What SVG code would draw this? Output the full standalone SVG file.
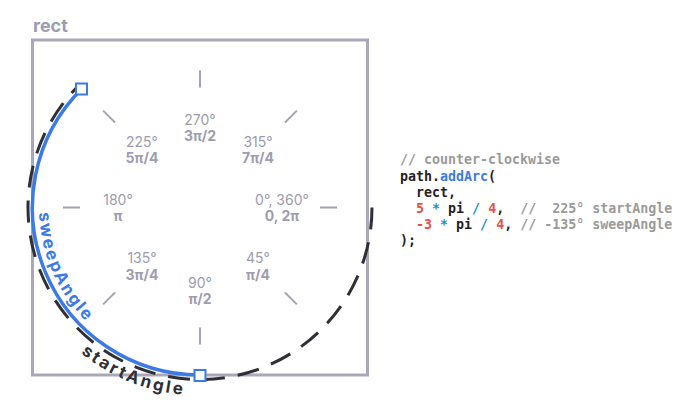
<svg xmlns="http://www.w3.org/2000/svg" width="700" height="400" viewBox="0 0 700 400">
  <style>
    .lbl { font-family: Inter, "Noto Sans", sans-serif; font-size: 14px; fill: #9e9cb0; text-anchor: middle; }
    .b { font-weight: 700; }
    .tick { stroke: #a3a1b3; stroke-width: 2; fill: none; }
    .frame { fill: none; stroke: #a9a7b8; stroke-width: 3; }
    .dash { fill: none; stroke: #2f2f35; stroke-width: 3; stroke-dasharray: 22 13; }
    .arc { fill: none; stroke: #3c7be6; stroke-width: 3.5; }
    .handle { fill: #ffffff; stroke: #3c7be6; stroke-width: 2; }
    .code { font-family: "DejaVu Sans Mono", "Liberation Mono", monospace; font-size: 13.3px; font-weight: 700; fill: #222228; white-space: pre; }
    .cm { fill: #9a9a9a; }
    .num { fill: #e5504a; }
    .op { fill: #1f8fc9; }
    .fn { fill: #3c7be6; }
    .curve { font-family: Inter, "Noto Sans", sans-serif; font-size: 17px; font-weight: 700; }
  </style>
  <defs>
    <path id="sweepPath" d="M 39 207.5 A 161 161 0 0 0 200 368.5"/>
    <path id="startPath" d="M 12 207.5 A 188 188 0 0 0 200 395.5"/>
  </defs>

  <g id="rect-node">
    <rect class="frame" x="32.5" y="40" width="335" height="335"/>
    <text x="33" y="32" style="font-family: Inter, 'Noto Sans', sans-serif; font-size: 18px; font-weight: 700; fill: #9e9cb0;">rect</text>
  </g>

  <g id="ticks">
    <line class="tick" x1="320" y1="207.5" x2="337" y2="207.5"/>
    <line class="tick" x1="284.85" y1="292.35" x2="296.87" y2="304.37"/>
    <line class="tick" x1="200" y1="327.5" x2="200" y2="344.5"/>
    <line class="tick" x1="115.15" y1="292.35" x2="103.13" y2="304.37"/>
    <line class="tick" x1="80" y1="207.5" x2="63" y2="207.5"/>
    <line class="tick" x1="115.15" y1="122.65" x2="103.13" y2="110.63"/>
    <line class="tick" x1="200" y1="87.5" x2="200" y2="70.5"/>
    <line class="tick" x1="284.85" y1="122.65" x2="296.87" y2="110.63"/>
  </g>

  <g id="angle-labels">
    <g id="label-270"><text class="lbl" x="200" y="125">270°</text><text class="lbl b" x="200" y="141">3π/2</text></g>
    <g id="label-225"><text class="lbl" x="142" y="147">225°</text><text class="lbl b" x="142" y="163">5π/4</text></g>
    <g id="label-315"><text class="lbl" x="258" y="147">315°</text><text class="lbl b" x="258" y="163">7π/4</text></g>
    <g id="label-180"><text class="lbl" x="118" y="205">180°</text><text class="lbl b" x="118" y="221">π</text></g>
    <g id="label-0"><text class="lbl" x="282" y="205">0°, 360°</text><text class="lbl b" x="282" y="221">0, 2π</text></g>
    <g id="label-135"><text class="lbl" x="142" y="263">135°</text><text class="lbl b" x="142" y="280">3π/4</text></g>
    <g id="label-45"><text class="lbl" x="258" y="263">45°</text><text class="lbl b" x="258" y="280">π/4</text></g>
    <g id="label-90"><text class="lbl" x="200" y="288">90°</text><text class="lbl b" x="200" y="304">π/2</text></g>
  </g>

  <g id="connectors">
    <path id="start-arc" class="dash" d="M 372 207.5 A 172 172 0 1 1 78.38 85.88"/>
    <path id="sweep-arc" class="arc" d="M 81.56 88.94 A 167.5 167.5 0 0 0 200 375"/>
  </g>

  <g id="handles">
    <rect id="handle-start" class="handle" x="76" y="83.5" width="11" height="11"/>
    <rect id="handle-end" class="handle" x="194.5" y="370" width="11" height="11"/>
  </g>

  <g id="curve-labels">
    <text class="curve" style="fill: #3c7be6; letter-spacing: 2px;"><textPath href="#sweepPath" startOffset="5">sweepAngle</textPath></text>
    <text class="curve" style="fill: #2f2f35; letter-spacing: 2.6px;"><textPath href="#startPath" startOffset="166">startAngle</textPath></text>
  </g>

  <g id="code">
    <text class="code" x="400" y="164"><tspan class="cm">// counter-clockwise</tspan></text>
    <text class="code" x="400" y="181">path.<tspan class="fn">addArc</tspan>(</text>
    <text class="code" x="400" y="197">  rect,</text>
    <text class="code" x="400" y="213">  <tspan class="num">5</tspan> <tspan class="op">*</tspan> pi <tspan class="op">/</tspan> <tspan class="num">4</tspan>,  <tspan class="cm">//  225° startAngle</tspan></text>
    <text class="code" x="400" y="229">  <tspan class="num">-3</tspan> <tspan class="op">*</tspan> pi <tspan class="op">/</tspan> <tspan class="num">4</tspan>, <tspan class="cm">// -135° sweepAngle</tspan></text>
    <text class="code" x="400" y="245">);</text>
  </g>
</svg>
